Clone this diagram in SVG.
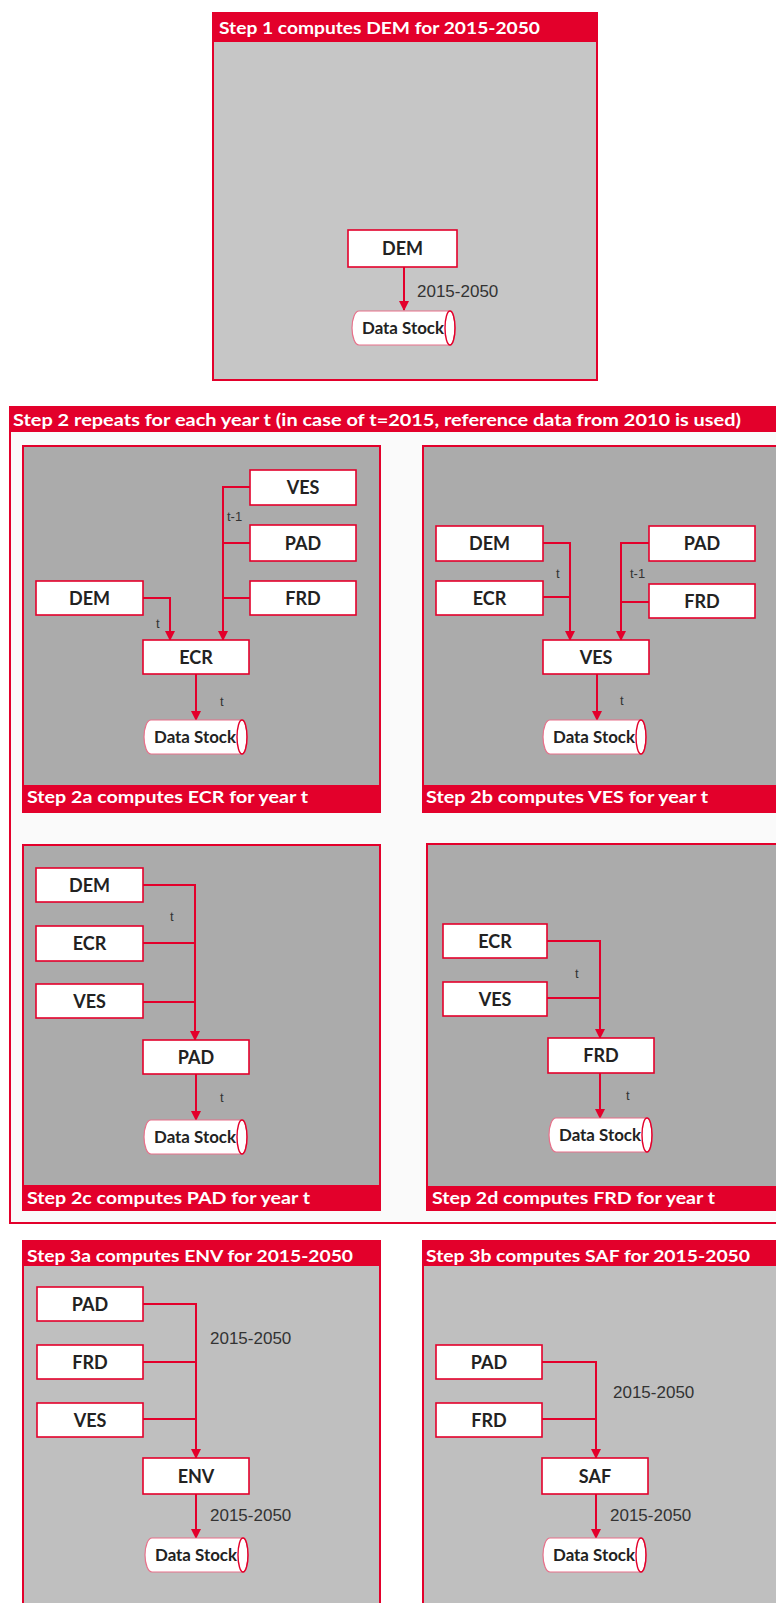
<svg xmlns="http://www.w3.org/2000/svg" width="776" height="1603" viewBox="0 0 776 1603">
<defs>
<style>
.frame{fill:none;stroke:#e3002b;stroke-width:2}
.bar{fill:#e3002b}
.title{font-family:Lato,"Liberation Sans",sans-serif;font-weight:bold;font-size:17px;fill:#fff}
.node rect{fill:#fff;stroke:#e3002b;stroke-width:1.6}
.nt{font-family:Lato,"Liberation Sans",sans-serif;font-weight:bold;font-size:18px;fill:#222;text-anchor:middle}
.dt{font-family:Lato,"Liberation Sans",sans-serif;font-weight:bold;font-size:17px;fill:#222;text-anchor:middle}
.ds{fill:#fff;stroke:#e8708a;stroke-width:1.2}
.dsend{fill:none;stroke:#e3002b;stroke-width:1.4}
.con{fill:none;stroke:#e3002b;stroke-width:2}
.arr{fill:none;stroke:#e3002b;stroke-width:2;marker-end:url(#ah)}
.lbl{font-family:"Liberation Sans",Arial,sans-serif;font-size:17px;fill:#333}
.sl{font-family:"Liberation Sans",Arial,sans-serif;font-size:13px;fill:#333}
</style>
<marker id="ah" markerWidth="10" markerHeight="10" refX="9" refY="5" orient="auto" markerUnits="userSpaceOnUse">
<path d="M0,0 L10,5 L0,10 Z" fill="#e3002b"/>
</marker>
<g id="dsShape">
<path class="ds" d="M7,0 H98 A5,17 0 0 1 98,34 H7 A7,17 0 0 1 7,0 Z"/>
<path class="dsend" d="M98,0 A5,17 0 0 1 98,34 A5,17 0 0 1 98,0"/>
</g>
</defs>
<rect x="0" y="0" width="776" height="1603" fill="#fff"/>

<!-- Step 1 -->
<g id="step1">
<rect x="213" y="13" width="384" height="367" fill="#c6c6c6"/>
<rect class="bar" x="213" y="13" width="384" height="29"/>
<rect class="frame" x="213" y="13" width="384" height="367"/>
<text class="title" x="219" y="34" textLength="321" lengthAdjust="spacingAndGlyphs">Step 1 computes DEM for 2015-2050</text>
</g>

<!-- Step 2 outer -->
<g id="step2">
<rect x="10" y="407" width="780" height="816" fill="#fafafa"/>
<rect class="bar" x="10" y="407" width="780" height="25"/>
<rect class="frame" x="10" y="407" width="780" height="816"/>
<text class="title" x="13" y="426" textLength="728" lengthAdjust="spacingAndGlyphs">Step 2 repeats for each year t (in case of t=2015, reference data from 2010 is used)</text>
</g>

<g id="step2a">
<rect x="23" y="446" width="357" height="366" fill="#ababab"/>
<rect class="bar" x="23" y="785" width="357" height="27"/>
<rect class="frame" x="23" y="446" width="357" height="366"/>
<text class="title" x="27" y="803" textLength="281" lengthAdjust="spacingAndGlyphs">Step 2a computes ECR for year t</text>
</g>
<g id="step2b">
<rect x="423" y="446" width="360" height="366" fill="#ababab"/>
<rect class="bar" x="423" y="785" width="360" height="27"/>
<rect class="frame" x="423" y="446" width="360" height="366"/>
<text class="title" x="426" y="803" textLength="282" lengthAdjust="spacingAndGlyphs">Step 2b computes VES for year t</text>
</g>
<g id="step2c">
<rect x="23" y="845" width="357" height="365" fill="#ababab"/>
<rect class="bar" x="23" y="1185" width="357" height="25"/>
<rect class="frame" x="23" y="845" width="357" height="365"/>
<text class="title" x="27" y="1204" textLength="283" lengthAdjust="spacingAndGlyphs">Step 2c computes PAD for year t</text>
</g>
<g id="step2d">
<rect x="427" y="844" width="360" height="366" fill="#ababab"/>
<rect class="bar" x="427" y="1186" width="360" height="24"/>
<rect class="frame" x="427" y="844" width="360" height="366"/>
<text class="title" x="432" y="1204" textLength="283" lengthAdjust="spacingAndGlyphs">Step 2d computes FRD for year t</text>
</g>

<g id="step3a">
<rect x="23" y="1241" width="357" height="380" fill="#bfbfbf"/>
<rect class="bar" x="23" y="1241" width="357" height="25"/>
<rect class="frame" x="23" y="1241" width="357" height="380"/>
<text class="title" x="27" y="1262" textLength="326" lengthAdjust="spacingAndGlyphs">Step 3a computes ENV for 2015-2050</text>
</g>
<g id="step3b">
<rect x="423" y="1241" width="360" height="380" fill="#bfbfbf"/>
<rect class="bar" x="423" y="1241" width="360" height="25"/>
<rect class="frame" x="423" y="1241" width="360" height="380"/>
<text class="title" x="426" y="1262" textLength="324" lengthAdjust="spacingAndGlyphs">Step 3b computes SAF for 2015-2050</text>
</g>

<!-- Connectors -->
<g id="connectors">
<path class="arr" d="M404,267 V310"/>
<path class="arr" d="M250,487 H223 V640"/>
<path class="con" d="M250,543 H223"/>
<path class="con" d="M250,598 H223"/>
<path class="arr" d="M143,598 H170 V640"/>
<path class="arr" d="M196,674 V720"/>
<path class="arr" d="M543,543 H570 V640"/>
<path class="con" d="M543,597 H570"/>
<path class="arr" d="M649,543 H621 V640"/>
<path class="con" d="M649,602 H621"/>
<path class="arr" d="M597,674 V720"/>
<path class="arr" d="M143,885 H195 V1040"/>
<path class="con" d="M143,943 H195"/>
<path class="con" d="M143,1002 H195"/>
<path class="arr" d="M196,1074 V1120"/>
<path class="arr" d="M547,941 H600 V1038"/>
<path class="con" d="M547,998 H600"/>
<path class="arr" d="M600,1073 V1118"/>
<path class="arr" d="M143,1304 H196 V1458"/>
<path class="con" d="M143,1362 H196"/>
<path class="con" d="M143,1419 H196"/>
<path class="arr" d="M196,1494 V1538"/>
<path class="arr" d="M542,1362 H596 V1458"/>
<path class="con" d="M542,1419 H596"/>
<path class="arr" d="M596,1494 V1538"/>

<text class="lbl" x="417" y="297">2015-2050</text>
<text class="sl" x="227" y="521">t-1</text>
<text class="sl" x="156" y="628">t</text>
<text class="sl" x="220" y="706">t</text>
<text class="sl" x="556" y="578">t</text>
<text class="sl" x="630" y="578">t-1</text>
<text class="sl" x="620" y="705">t</text>
<text class="sl" x="170" y="921">t</text>
<text class="sl" x="220" y="1102">t</text>
<text class="sl" x="575" y="978">t</text>
<text class="sl" x="626" y="1100">t</text>
<text class="lbl" x="210" y="1344">2015-2050</text>
<text class="lbl" x="210" y="1521">2015-2050</text>
<text class="lbl" x="613" y="1398">2015-2050</text>
<text class="lbl" x="610" y="1521">2015-2050</text>
</g>

<g id="s1-dem" class="node"><rect x="348" y="230" width="109" height="37"/><text class="nt" x="402.5" y="255">DEM</text></g>
<g id="s1-ds" class="node"><use href="#dsShape" transform="translate(352,311)"/><text class="dt" x="403" y="334" textLength="82" lengthAdjust="spacingAndGlyphs">Data Stock</text></g>

<g id="s2a-ves" class="node"><rect x="250" y="470" width="106" height="35"/><text class="nt" x="303" y="494">VES</text></g>
<g id="s2a-pad" class="node"><rect x="250" y="525" width="106" height="36"/><text class="nt" x="303" y="550">PAD</text></g>
<g id="s2a-frd" class="node"><rect x="250" y="581" width="106" height="34"/><text class="nt" x="303" y="605">FRD</text></g>
<g id="s2a-dem" class="node"><rect x="36" y="581" width="107" height="34"/><text class="nt" x="89.5" y="605">DEM</text></g>
<g id="s2a-ecr" class="node"><rect x="143" y="640" width="106" height="34"/><text class="nt" x="196" y="664">ECR</text></g>
<g id="s2a-ds" class="node"><use href="#dsShape" transform="translate(144,720)"/><text class="dt" x="195" y="743" textLength="82" lengthAdjust="spacingAndGlyphs">Data Stock</text></g>

<g id="s2b-dem" class="node"><rect x="436" y="526" width="107" height="35"/><text class="nt" x="489.5" y="550">DEM</text></g>
<g id="s2b-ecr" class="node"><rect x="436" y="581" width="107" height="34"/><text class="nt" x="489.5" y="605">ECR</text></g>
<g id="s2b-pad" class="node"><rect x="649" y="526" width="106" height="35"/><text class="nt" x="702" y="550">PAD</text></g>
<g id="s2b-frd" class="node"><rect x="649" y="584" width="106" height="34"/><text class="nt" x="702" y="608">FRD</text></g>
<g id="s2b-ves" class="node"><rect x="543" y="640" width="106" height="34"/><text class="nt" x="596" y="664">VES</text></g>
<g id="s2b-ds" class="node"><use href="#dsShape" transform="translate(543,720)"/><text class="dt" x="594" y="743" textLength="82" lengthAdjust="spacingAndGlyphs">Data Stock</text></g>

<g id="s2c-dem" class="node"><rect x="36" y="868" width="107" height="34"/><text class="nt" x="89.5" y="892">DEM</text></g>
<g id="s2c-ecr" class="node"><rect x="36" y="926" width="107" height="35"/><text class="nt" x="89.5" y="950">ECR</text></g>
<g id="s2c-ves" class="node"><rect x="36" y="984" width="107" height="34"/><text class="nt" x="89.5" y="1008">VES</text></g>
<g id="s2c-pad" class="node"><rect x="143" y="1040" width="106" height="34"/><text class="nt" x="196" y="1064">PAD</text></g>
<g id="s2c-ds" class="node"><use href="#dsShape" transform="translate(144,1120)"/><text class="dt" x="195" y="1143" textLength="82" lengthAdjust="spacingAndGlyphs">Data Stock</text></g>

<g id="s2d-ecr" class="node"><rect x="443" y="924" width="104" height="34"/><text class="nt" x="495" y="948">ECR</text></g>
<g id="s2d-ves" class="node"><rect x="443" y="982" width="104" height="34"/><text class="nt" x="495" y="1006">VES</text></g>
<g id="s2d-frd" class="node"><rect x="548" y="1038" width="106" height="35"/><text class="nt" x="601" y="1062">FRD</text></g>
<g id="s2d-ds" class="node"><use href="#dsShape" transform="translate(549,1118)"/><text class="dt" x="600" y="1141" textLength="82" lengthAdjust="spacingAndGlyphs">Data Stock</text></g>

<g id="s3a-pad" class="node"><rect x="37" y="1287" width="106" height="34"/><text class="nt" x="90" y="1311">PAD</text></g>
<g id="s3a-frd" class="node"><rect x="37" y="1345" width="106" height="34"/><text class="nt" x="90" y="1369">FRD</text></g>
<g id="s3a-ves" class="node"><rect x="37" y="1403" width="106" height="34"/><text class="nt" x="90" y="1427">VES</text></g>
<g id="s3a-env" class="node"><rect x="143" y="1458" width="106" height="36"/><text class="nt" x="196" y="1483">ENV</text></g>
<g id="s3a-ds" class="node"><use href="#dsShape" transform="translate(145,1538)"/><text class="dt" x="196" y="1561" textLength="82" lengthAdjust="spacingAndGlyphs">Data Stock</text></g>

<g id="s3b-pad" class="node"><rect x="436" y="1345" width="106" height="34"/><text class="nt" x="489" y="1369">PAD</text></g>
<g id="s3b-frd" class="node"><rect x="436" y="1403" width="106" height="34"/><text class="nt" x="489" y="1427">FRD</text></g>
<g id="s3b-saf" class="node"><rect x="542" y="1458" width="106" height="36"/><text class="nt" x="595" y="1483">SAF</text></g>
<g id="s3b-ds" class="node"><use href="#dsShape" transform="translate(543,1538)"/><text class="dt" x="594" y="1561" textLength="82" lengthAdjust="spacingAndGlyphs">Data Stock</text></g>
</svg>
